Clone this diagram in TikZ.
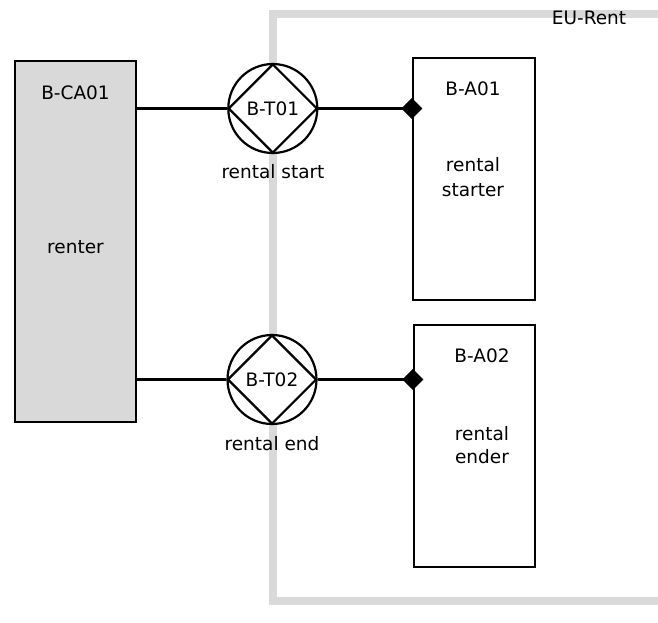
\documentclass[tikz,border=0pt]{standalone}
\usepackage{fontspec}
\setmainfont{DejaVu Sans}
\usetikzlibrary{shapes.geometric}
\definecolor{frameg}{RGB}{217,217,217}
\tikzset{
  lw/.style={line width=2.2pt},
  actorbox/.style={draw, lw, rectangle, inner sep=0pt},
  txcircle/.style={draw, lw, circle, fill=white, inner sep=0pt, minimum size=89pt},
  txdiamond/.style={draw, lw, diamond, inner sep=0pt, minimum width=89pt, minimum height=89pt, font=\fontsize{18.5}{22}\selectfont},
  endmark/.style={diamond, fill=black, inner sep=0pt, minimum width=21pt, minimum height=21pt},
  lbl/.style={anchor=base, inner sep=0pt, font=\fontsize{18.5}{22}\selectfont},
  conn/.style={lw}
}
\begin{document}
\begin{tikzpicture}[x=1pt,y=-1pt]
\useasboundingbox (0,0) rectangle (658,622);
% system boundary
\draw[frameg, line width=8pt] (658,14) -- (273,14) -- (273,600.5) -- (658,600.5);
\node[lbl] (eurent) at (589,24) {EU-Rent};
% actor boxes
\node[actorbox, fill=frameg, minimum width=121pt, minimum height=361pt] (ca01) at (75.5,241.5) {};
\node[actorbox, fill=white, minimum width=122pt, minimum height=242pt] (a01) at (474,179) {};
\node[actorbox, fill=white, minimum width=121pt, minimum height=242pt] (a02) at (474.5,446) {};
% box texts
\node[lbl] (ca01t) at (75.5,99) {B-CA01};
\node[lbl] (ca01n) at (75.5,253) {renter};
\node[lbl] (a01t) at (473,95) {B-A01};
\node[lbl] (a01n1) at (473,171) {rental};
\node[lbl] (a01n2) at (473,196) {starter};
\node[lbl] (a02t) at (482,362) {B-A02};
\node[lbl] (a02n1) at (482,440) {rental};
\node[lbl] (a02n2) at (482,463) {ender};
% transactions
\node[txcircle] (t01) at (272.8,108.5) {};
\node[txdiamond] (t01d) at (t01) {B-T01};
\node[lbl] (t01n) at (273,178) {rental start};
\node[txcircle] (t02) at (272,379.5) {};
\node[txdiamond] (t02d) at (t02) {B-T02};
\node[lbl] (t02n) at (272,450) {rental end};
% end markers
\node[endmark] (d1) at (a01.west |- t01) {};
\node[endmark] (d2) at (a02.west |- t02) {};
% connectors
\draw[conn] (ca01.east |- t01) -- (t01.west);
\draw[conn] (t01.east) -- (d1.center);
\draw[conn] (ca01.east |- t02) -- (t02.west);
\draw[conn] (t02.east) -- (d2.center);
\end{tikzpicture}
\end{document}
